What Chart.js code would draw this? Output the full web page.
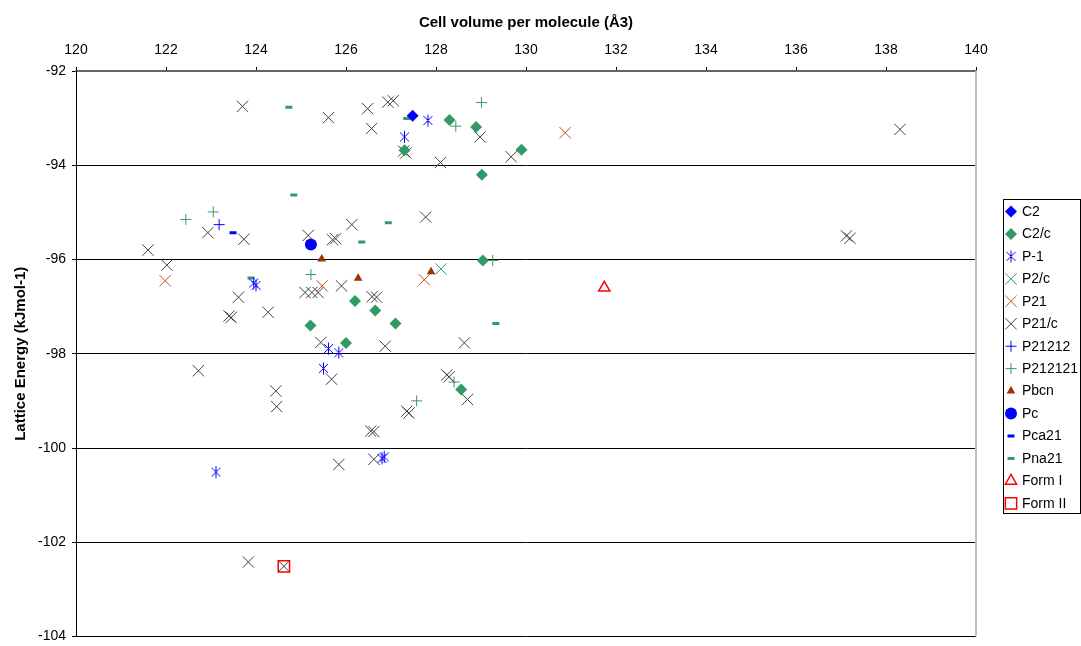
<!DOCTYPE html>
<html>
<head>
<meta charset="utf-8">
<script src="https://cdn.jsdelivr.net/npm/chart.js@4.4.1/dist/chart.umd.min.js"></script>
<style>
  html, body { margin: 0; padding: 0; background: #fff; }
  #wrap { width: 1081px; height: 646px; }
</style>
</head>
<body>
<div id="wrap"><canvas id="chart" width="1081" height="646"></canvas></div>
<script>
// tick values of both axes
const xTickValues = [120, 122, 124, 126, 128, 130, 132, 134, 136, 138, 140];
const yTickValues = [-104, -102, -100, -98, -96, -94, -92];

const xTitle = 'Cell volume per molecule (Å3)';
const yTitle = 'Lattice Energy (kJmol-1)';

// series names (legend order)
const seriesNames = ['C2', 'C2/c', 'P-1', 'P2/c', 'P21', 'P21/c', 'P21212', 'P212121',
  'Pbcn', 'Pc', 'Pca21', 'Pna21', 'Form I', 'Form II'];

// values: x = cell volume, y = lattice energy
const c2X = [127.48];
const c2Y = [-92.95];

const c2cX = [128.30, 128.89, 127.30, 129.90, 129.02, 129.04, 126.20, 126.65, 127.10, 125.21, 126.00, 128.56];
const c2cY = [-93.04, -93.19, -93.68, -93.67, -94.20, -96.02, -96.88, -97.08, -97.36, -97.40, -97.77, -98.76];

const p1X = [127.82, 127.30, 123.95, 124.00, 125.61, 125.84, 125.50, 123.11, 126.85, 126.80];
const p1Y = [-93.05, -93.40, -96.50, -96.55, -97.89, -97.98, -98.31, -100.51, -100.19, -100.22];

const p2cX = [128.11];
const p2cY = [-96.20];

const p21X = [130.87, 121.98, 125.47, 127.74];
const p21Y = [-93.31, -96.45, -96.56, -96.43];

const p21cX = [123.70, 125.61, 126.48, 126.57, 126.93, 127.05, 128.98, 127.28, 127.33, 128.10,
  129.67, 138.31, 137.12, 137.20, 122.93, 123.73, 121.60, 122.02, 125.16, 125.70,
  125.77, 126.13, 127.77, 125.90, 125.09, 125.24, 125.38, 126.58, 126.68, 123.61,
  123.40, 123.45, 124.27, 125.44, 126.87, 128.63, 122.72, 125.68, 124.44, 124.46,
  128.24, 128.29, 128.70, 127.35, 127.40, 126.55, 126.62, 125.84, 126.62, 123.83,
  124.62];
const p21cY = [-92.75, -92.99, -92.80, -93.22, -92.66, -92.63, -93.40, -93.70, -93.74, -93.94,
  -93.82, -93.24, -95.50, -95.55, -95.43, -95.57, -95.80, -96.12, -95.49, -95.58,
  -95.56, -95.26, -95.10, -96.56, -96.70, -96.70, -96.70, -96.79, -96.80, -96.80,
  -97.20, -97.23, -97.12, -97.76, -97.84, -97.77, -98.36, -98.54, -98.79, -99.12,
  -98.45, -98.49, -98.97, -99.22, -99.26, -99.64, -99.65, -100.35, -100.24, -102.42,
  -102.51];

const p21212X = [123.18];
const p21212Y = [-95.26];

const p212121X = [122.44, 123.05, 129.01, 128.44, 125.22, 129.26, 128.40, 127.57];
const p212121Y = [-95.15, -94.99, -92.67, -93.17, -96.32, -96.02, -98.60, -99.00];

const pbcnX = [125.46, 126.27, 127.89];
const pbcnY = [-95.99, -96.40, -96.26];

const pcX = [125.22];
const pcY = [-95.68];

const pca21X = [123.49];
const pca21Y = [-95.43];

const pna21X = [124.73, 124.84, 127.35, 126.35, 126.94, 123.89, 129.33];
const pna21Y = [-92.77, -94.63, -93.01, -95.63, -95.22, -96.39, -97.36];

const form1X = [131.74];
const form1Y = [-96.60];

const form2X = [124.62];
const form2Y = [-102.51];

const seriesX = [c2X, c2cX, p1X, p2cX, p21X, p21cX, p21212X, p212121X, pbcnX, pcX, pca21X, pna21X, form1X, form2X];
const seriesY = [c2Y, c2cY, p1Y, p2cY, p21Y, p21cY, p21212Y, p212121Y, pbcnY, pcY, pca21Y, pna21Y, form1Y, form2Y];

// excel-like asterisk marker (X with a vertical bar)
const makeAsterisk = (color) => {
  const c = document.createElement('canvas');
  c.width = 13;
  c.height = 13;
  const g = c.getContext('2d');
  g.strokeStyle = color;
  g.lineWidth = 1;
  g.beginPath();
  g.moveTo(2, 2); g.lineTo(11, 11);
  g.moveTo(11, 2); g.lineTo(2, 11);
  g.moveTo(6.5, 0.5); g.lineTo(6.5, 12.5);
  g.stroke();
  return c;
};

const blue = '#0000FF';
const green = '#339966';
const rust = '#CC4A1A';
const dark = '#404040';
const brown = '#993300';
const red = '#FF0000';

// marker look per series
const markerStyles = [
  { pointStyle: 'rectRot', radius: 6, fill: blue, stroke: blue, width: 0 },
  { pointStyle: 'rectRot', radius: 6, fill: green, stroke: green, width: 0 },
  { pointStyle: makeAsterisk(blue), radius: 6, fill: blue, stroke: blue, width: 1 },
  { pointStyle: 'crossRot', radius: 8, fill: green, stroke: green, width: 1 },
  { pointStyle: 'crossRot', radius: 8, fill: rust, stroke: rust, width: 1 },
  { pointStyle: 'crossRot', radius: 8, fill: dark, stroke: dark, width: 1 },
  { pointStyle: 'cross', radius: 5.5, fill: blue, stroke: blue, width: 1 },
  { pointStyle: 'cross', radius: 5.5, fill: green, stroke: green, width: 1 },
  { pointStyle: 'triangle', radius: 5, fill: brown, stroke: brown, width: 0 },
  { pointStyle: 'circle', radius: 6, fill: blue, stroke: blue, width: 0 },
  { pointStyle: 'line', radius: 3.5, fill: blue, stroke: blue, width: 3 },
  { pointStyle: 'line', radius: 3.5, fill: green, stroke: green, width: 3 },
  { pointStyle: 'triangle', radius: 6.5, fill: 'rgba(0,0,0,0)', stroke: red, width: 1.5 },
  { pointStyle: 'rect', radius: 8, fill: 'rgba(0,0,0,0)', stroke: red, width: 1.5 },
];

const datasets = seriesNames.map((name, i) => ({
  label: name,
  data: seriesX[i].map((x, j) => ({ x: x, y: seriesY[i][j] })),
  showLine: false,
  pointStyle: markerStyles[i].pointStyle,
  pointRadius: markerStyles[i].radius,
  pointHoverRadius: markerStyles[i].radius,
  pointBackgroundColor: markerStyles[i].fill,
  pointBorderColor: markerStyles[i].stroke,
  pointBorderWidth: markerStyles[i].width,
}));

// legend drawn in a box on the right, like the original
const boxLegend = {
  id: 'boxLegend',
  afterDraw(chart) {
    const ctx = chart.ctx;
    const left = 1003;
    const top = 199;
    const step = 22.45;
    ctx.save();
    ctx.strokeStyle = '#000';
    ctx.lineWidth = 1;
    ctx.strokeRect(left + 0.5, top + 0.5, 77, 314);

    // right border of the plot
    const area = chart.chartArea;
    ctx.strokeStyle = '#C0C0C0';
    ctx.lineWidth = 2;
    ctx.beginPath();
    ctx.moveTo(area.right, area.top);
    ctx.lineTo(area.right, area.bottom);
    ctx.stroke();

    ctx.font = "14px 'Liberation Sans', Arial, sans-serif";
    ctx.textBaseline = 'middle';
    ctx.textAlign = 'left';
    seriesNames.forEach((name, i) => {
      const y = top + 12.5 + i * step;
      const st = markerStyles[i];
      ctx.fillStyle = st.fill;
      ctx.strokeStyle = st.stroke;
      ctx.lineWidth = st.width;
      Chart.helpers.drawPoint(ctx, {
        pointStyle: st.pointStyle,
        rotation: 0,
        radius: st.radius,
        borderWidth: st.width,
      }, left + 8, y);
      ctx.fillStyle = '#000';
      ctx.fillText(name, left + 19, y + 0.5);
    });
    ctx.restore();
  },
};

Chart.defaults.font.family = "'Liberation Sans', Arial, sans-serif";
Chart.defaults.color = '#000';

new Chart(document.getElementById('chart'), {
  type: 'scatter',
  data: { datasets: datasets },
  options: {
    responsive: false,
    animation: false,
    layout: { padding: { left: 0, top: 0, right: 105, bottom: 5 } },
    plugins: {
      legend: { display: false },
      tooltip: { enabled: false },
    },
    scales: {
      x: {
        type: 'linear',
        position: 'top',
        min: xTickValues[0],
        max: xTickValues[xTickValues.length - 1],
        afterFit: (scale) => { scale.height = 71; },
        ticks: {
          stepSize: xTickValues[1] - xTickValues[0],
          font: { size: 14 },
          padding: 8,
          maxRotation: 0,
        },
        grid: {
          drawOnChartArea: false,
          drawTicks: true,
          tickLength: 4,
          color: '#000',
        },
        border: { display: true, color: '#666', width: 2 },
        title: {
          display: true,
          text: xTitle,
          font: { size: 15, weight: 'bold' },
          padding: { top: 14, bottom: 0 },
        },
      },
      y: {
        type: 'linear',
        min: yTickValues[0],
        max: yTickValues[yTickValues.length - 1],
        afterFit: (scale) => {
          scale.width = 76;
          scale.paddingTop = 0;
          scale.paddingBottom = 0;
        },
        ticks: {
          stepSize: yTickValues[1] - yTickValues[0],
          font: { size: 14 },
          padding: 6,
        },
        grid: {
          color: (c) => (c.tick && c.tick.value === yTickValues[yTickValues.length - 1] ? 'rgba(0,0,0,0)' : '#000'),
          tickColor: '#000',
          tickLength: 4,
        },
        border: { display: true, color: '#000', width: 1 },
        title: {
          display: true,
          text: yTitle,
          font: { size: 15, weight: 'bold' },
          padding: { top: 12, bottom: 0 },
        },
      },
    },
  },
  plugins: [boxLegend],
});
</script>
</body>
</html>
